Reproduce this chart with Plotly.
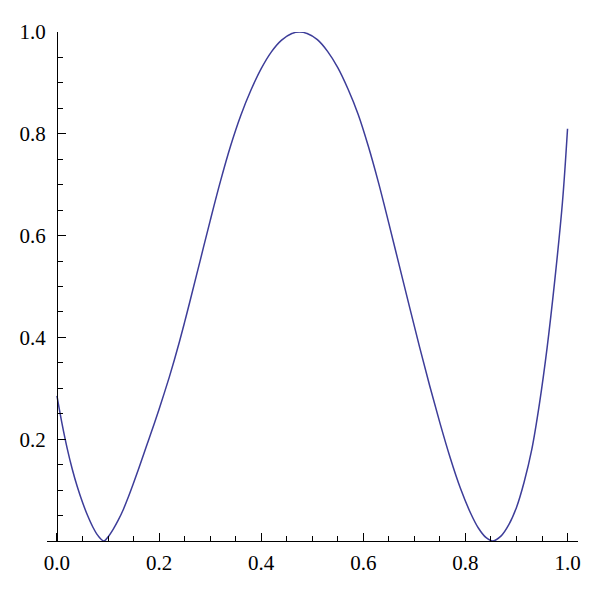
import plotly.graph_objects as go

# Values
x_vals = [0.000, 0.010, 0.020, 0.030, 0.040, 0.050, 0.060, 0.070, 0.080, 0.092,
          0.100, 0.110, 0.120, 0.130, 0.140, 0.150, 0.160, 0.170, 0.180, 0.190,
          0.200, 0.210, 0.220, 0.230, 0.240, 0.250, 0.260, 0.280, 0.300, 0.320,
          0.340, 0.360, 0.380, 0.400, 0.420, 0.440, 0.460, 0.475, 0.490, 0.510,
          0.530, 0.550, 0.570, 0.590, 0.610, 0.630, 0.650, 0.670, 0.690, 0.710,
          0.730, 0.750, 0.770, 0.790, 0.810, 0.825, 0.840, 0.854, 0.870, 0.885,
          0.900, 0.915, 0.930, 0.945, 0.960, 0.975, 0.990, 1.000]
y_vals = [0.285, 0.230, 0.182, 0.141, 0.106, 0.076, 0.050, 0.028, 0.011, 0.000,
          0.008, 0.023, 0.041, 0.062, 0.087, 0.114, 0.142, 0.171, 0.200, 0.229,
          0.259, 0.290, 0.322, 0.356, 0.392, 0.430, 0.469, 0.549, 0.629, 0.706,
          0.776, 0.836, 0.886, 0.928, 0.961, 0.984, 0.997, 1.000, 0.997, 0.985,
          0.962, 0.930, 0.888, 0.838, 0.775, 0.703, 0.624, 0.543, 0.462, 0.382,
          0.305, 0.232, 0.164, 0.104, 0.055, 0.026, 0.007, 0.000, 0.010, 0.032,
          0.066, 0.116, 0.180, 0.270, 0.380, 0.512, 0.665, 0.810]

x_ticks = [0.0, 0.2, 0.4, 0.6, 0.8, 1.0]
x_tick_text = ["0.0", "0.2", "0.4", "0.6", "0.8", "1.0"]
y_ticks = [0.2, 0.4, 0.6, 0.8, 1.0]
y_tick_text = ["0.2", "0.4", "0.6", "0.8", "1.0"]

LINE_COLOR = "#3d3d99"
FONT = dict(family="Liberation Serif, DejaVu Serif, serif", size=21, color="black")

fig = go.Figure()
fig.add_trace(go.Scatter(
    x=x_vals, y=y_vals, mode="lines",
    line=dict(color=LINE_COLOR, width=1.5, shape="spline", smoothing=1.0),
    hoverinfo="skip", showlegend=False,
))

# the page body adds an 8px offset, so margins compensate for it
W, H = 600, 597
L, R, T, B = 37, 30, 22, 64
plot_w = W - L - R
px_per_unit = 512.5
x0 = -10 / px_per_unit
x1 = x0 + plot_w / px_per_unit

fig.update_layout(
    width=W, height=H,
    margin=dict(l=L, r=R, t=T, b=B, pad=0),
    paper_bgcolor="white", plot_bgcolor="white",
    font=FONT,
    xaxis=dict(
        range=[x0, x1], domain=[0, 1],
        showgrid=False, zeroline=False,
        showline=True, linecolor="black", linewidth=1,
        tickmode="array", tickvals=x_ticks, ticktext=x_tick_text,
        ticks="inside", ticklen=8, tickwidth=1, tickcolor="black",
        ticklabelstandoff=3,
        minor=dict(dtick=0.05, tick0=0, ticks="inside", ticklen=5,
                   tickwidth=1, tickcolor="black", showgrid=False),
        tickfont=FONT,
    ),
    yaxis=dict(
        range=[0, 1],
        anchor="free", position=10 / plot_w,
        showgrid=False, zeroline=False,
        showline=True, linecolor="black", linewidth=1,
        tickmode="array", tickvals=y_ticks, ticktext=y_tick_text,
        ticks="inside", ticklen=8, tickwidth=1, tickcolor="black",
        ticklabelstandoff=7,
        minor=dict(dtick=0.05, tick0=0, ticks="inside", ticklen=5,
                   tickwidth=1, tickcolor="black", showgrid=False),
        tickfont=FONT,
    ),
)

fig.write_html("out.html")
